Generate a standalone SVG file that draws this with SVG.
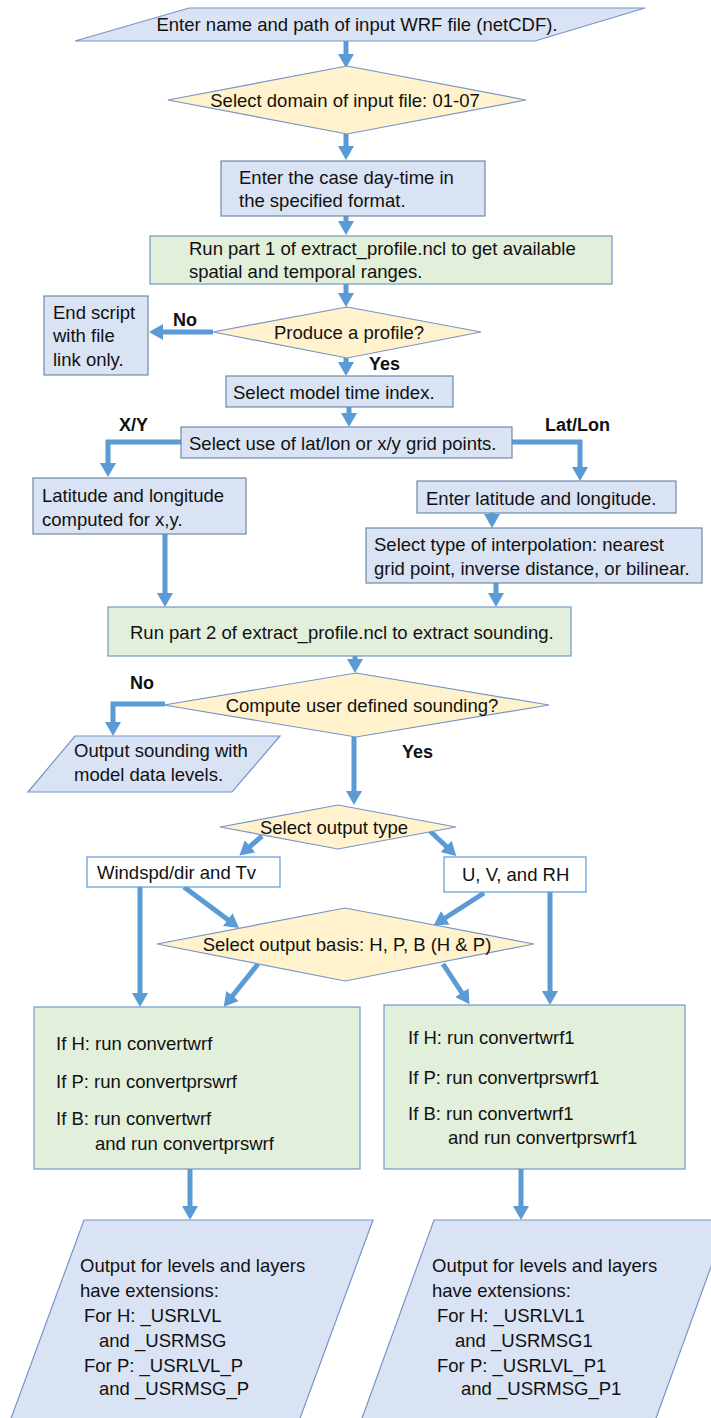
<svg xmlns="http://www.w3.org/2000/svg" width="711" height="1418" viewBox="0 0 711 1418">
  <style>
    text { font-family: "Liberation Sans", Arial, sans-serif; font-size: 18.5px; fill: #111; dominant-baseline: central; }
    .lbl { font-weight: bold; font-size: 18px; }
    .mid { text-anchor: middle; }
    .io { fill: #dae3f3; stroke: #7496c8; stroke-width: 1.2; }
    .proc { fill: #dae3f3; stroke: #6f8aa8; stroke-width: 1.2; }
    .run { fill: #e2efda; stroke: #7496c8; stroke-width: 1.2; }
    .dec { fill: #fff2cc; stroke: #7496c8; stroke-width: 1.2; }
    .opt { fill: #ffffff; stroke: #5b9bd5; stroke-width: 1.2; }
    .flow { fill: none; stroke: #5b9bd5; stroke-width: 5; marker-end: url(#head); }
  </style>
  <defs>
    <marker id="head" markerUnits="userSpaceOnUse" viewBox="0 0 14 16" markerWidth="14" markerHeight="16" refX="4" refY="8" orient="auto">
      <path d="M0,0 L14,8 L0,16 z" fill="#5b9bd5"/>
    </marker>
  </defs>

  <!-- connectors: each path ends 10px short of the arrow tip -->
  <g id="connectors">
    <path class="flow" d="M346,41 V58"/>
    <path class="flow" d="M346,134 V150"/>
    <path class="flow" d="M346,216 V225"/>
    <path class="flow" d="M346,284 V297"/>
    <path class="flow" d="M213,332 H159"/>
    <path class="flow" d="M346,358 V366"/>
    <path class="flow" d="M349,407 V417"/>
    <path class="flow" d="M181,442 H108 V467"/>
    <path class="flow" d="M512,442 H580 V471"/>
    <path class="flow" d="M492,513 V518"/>
    <path class="flow" d="M496,583 V597"/>
    <path class="flow" d="M165,534 V597"/>
    <path class="flow" d="M355,656 V663"/>
    <path class="flow" d="M165,704 H113 V726"/>
    <path class="flow" d="M354,737 V795"/>
    <path class="flow" d="M262,836 L247,849"/>
    <path class="flow" d="M430,831 L449,849"/>
    <path class="flow" d="M184,887 L231,922"/>
    <path class="flow" d="M484,893 L442,920"/>
    <path class="flow" d="M140,887 V997"/>
    <path class="flow" d="M550,892 V995"/>
    <path class="flow" d="M258,964 L230,999"/>
    <path class="flow" d="M443,964 L464,996"/>
    <path class="flow" d="M190,1169 V1210"/>
    <path class="flow" d="M521,1169 V1210"/>
  </g>

  <g id="input-file">
    <polygon class="io" points="189,8 645,8 535,41 75,41"/>
    <text class="mid" x="357" y="24">Enter name and path of input WRF file (netCDF).</text>
  </g>

  <g id="select-domain">
    <polygon class="dec" points="347,66 526,100 347,134 168,100"/>
    <text class="mid" x="345" y="100">Select domain of input file: 01-07</text>
  </g>

  <g id="case-time">
    <rect class="proc" x="221" y="161" width="264" height="55"/>
    <text x="239" y="177">Enter the case day-time in</text>
    <text x="239" y="200">the specified format.</text>
  </g>

  <g id="run-part1">
    <rect class="run" x="150" y="236" width="462" height="48"/>
    <text x="189" y="248">Run part 1 of extract_profile.ncl to get available</text>
    <text x="189" y="271">spatial and temporal ranges.</text>
  </g>

  <g id="produce-profile">
    <polygon class="dec" points="347,307 481,332 347,358 213,332"/>
    <text class="mid" x="349" y="332">Produce a profile?</text>
  </g>
  <text class="lbl" x="173" y="320">No</text>
  <text class="lbl" x="369" y="364">Yes</text>

  <g id="end-script">
    <rect class="proc" x="44" y="296" width="104" height="79"/>
    <text x="53" y="312">End script</text>
    <text x="53" y="335">with file</text>
    <text x="53" y="359">link only.</text>
  </g>

  <g id="time-index">
    <rect class="proc" x="226" y="376" width="227" height="31"/>
    <text x="233" y="392">Select model time index.</text>
  </g>

  <g id="grid-choice">
    <rect class="proc" x="181" y="427" width="331" height="31"/>
    <text x="189" y="443">Select use of lat/lon or x/y grid points.</text>
  </g>
  <text class="lbl" x="119" y="425">X/Y</text>
  <text class="lbl" x="545" y="425">Lat/Lon</text>

  <g id="latlon-computed">
    <rect class="proc" x="33" y="478" width="213" height="56"/>
    <text x="42" y="495">Latitude and longitude</text>
    <text x="42" y="519">computed for x,y.</text>
  </g>

  <g id="enter-latlon">
    <rect class="proc" x="417" y="481" width="259" height="32"/>
    <text x="426" y="498">Enter latitude and longitude.</text>
  </g>

  <g id="interpolation">
    <rect class="proc" x="366" y="528" width="336" height="55"/>
    <text x="374" y="544">Select type of interpolation: nearest</text>
    <text x="374" y="568">grid point, inverse distance, or bilinear.</text>
  </g>

  <g id="run-part2">
    <rect class="run" x="108" y="607" width="463" height="49"/>
    <text x="130" y="632">Run part 2 of extract_profile.ncl to extract sounding.</text>
  </g>

  <g id="user-sounding">
    <polygon class="dec" points="356,673 549,705 356,737 164,705"/>
    <text class="mid" x="362" y="705">Compute user defined sounding?</text>
  </g>
  <text class="lbl" x="130" y="683">No</text>
  <text class="lbl" x="402" y="752">Yes</text>

  <g id="model-levels-output">
    <polygon class="io" points="75,736 280,736 232,792 28,792"/>
    <text x="74" y="750">Output sounding with</text>
    <text x="74" y="774">model data levels.</text>
  </g>

  <g id="output-type">
    <polygon class="dec" points="338,805 456,827 338,849 220,827"/>
    <text class="mid" x="334" y="827">Select output type</text>
  </g>

  <g id="windspd">
    <rect class="opt" x="87" y="857" width="193" height="30"/>
    <text x="97" y="872">Windspd/dir and Tv</text>
  </g>

  <g id="uvrh">
    <rect class="opt" x="444" y="857" width="142" height="35"/>
    <text x="462" y="874">U, V, and RH</text>
  </g>

  <g id="output-basis">
    <polygon class="dec" points="345,908 534,944 345,981 157,944"/>
    <text class="mid" x="347" y="944">Select output basis: H, P, B (H &amp; P)</text>
  </g>

  <g id="convert-left">
    <rect class="run" x="34" y="1007" width="326" height="162"/>
    <text x="56" y="1043">If H: run convertwrf</text>
    <text x="56" y="1081">If P: run convertprswrf</text>
    <text x="56" y="1118">If B: run convertwrf</text>
    <text x="95" y="1143">and run convertprswrf</text>
  </g>

  <g id="convert-right">
    <rect class="run" x="384" y="1005" width="301" height="164"/>
    <text x="408" y="1037">If H: run convertwrf1</text>
    <text x="408" y="1077">If P: run convertprswrf1</text>
    <text x="408" y="1113">If B: run convertwrf1</text>
    <text x="448" y="1137">and run convertprswrf1</text>
  </g>

  <g id="output-left">
    <polygon class="io" points="84,1220 373,1220 295,1432 6,1432"/>
    <text x="80" y="1265">Output for levels and layers</text>
    <text x="80" y="1290">have extensions:</text>
    <text x="84" y="1315">For H: _USRLVL</text>
    <text x="99" y="1340">and _USRMSG</text>
    <text x="84" y="1365">For P: _USRLVL_P</text>
    <text x="99" y="1388">and _USRMSG_P</text>
  </g>

  <g id="output-right">
    <polygon class="io" points="434,1220 728,1220 651,1432 357,1432"/>
    <text x="432" y="1265">Output for levels and layers</text>
    <text x="432" y="1290">have extensions:</text>
    <text x="437" y="1315">For H: _USRLVL1</text>
    <text x="455" y="1340">and _USRMSG1</text>
    <text x="437" y="1365">For P: _USRLVL_P1</text>
    <text x="461" y="1388">and _USRMSG_P1</text>
  </g>
</svg>
